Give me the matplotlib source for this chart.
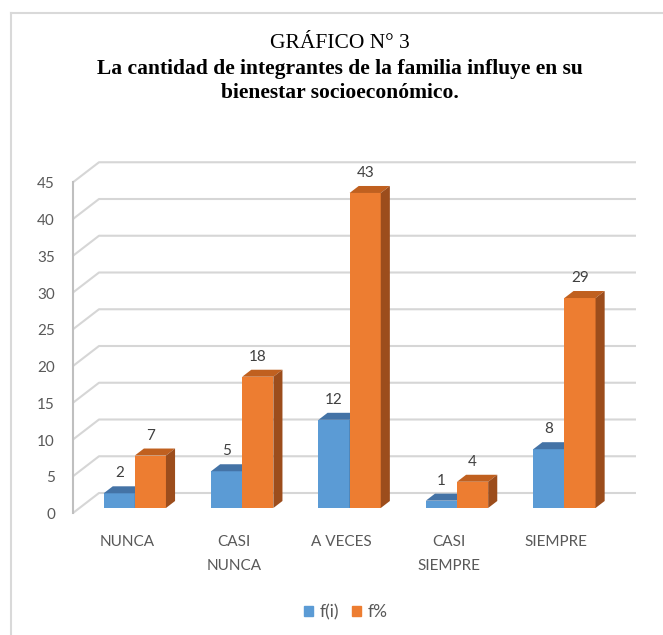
import numpy as np
import matplotlib.pyplot as plt
from matplotlib.lines import Line2D
from matplotlib.patches import Patch

# data
categories = ["NUNCA", "CASI\nNUNCA", "A VECES", "CASI\nSIEMPRE", "SIEMPRE"]
f_i = [2, 5, 12, 1, 8]
f_pct = [7.14, 17.86, 42.86, 3.57, 28.57]
series_names = ["f(i)", "f%"]
y_ticks = list(range(0, 50, 5))

title_1 = "GRÁFICO N° 3"
title_2 = "La cantidad de integrantes de la familia influye en su"
title_3 = "bienestar socioeconómico."

# colours: front, top, side
blue = ("#5b9bd5", "#4473a6", "#3b6a96")
orange = ("#ed7d31", "#c0601f", "#9c4d1c")

W, H = 663, 635
fig = plt.figure(figsize=(W / 100, H / 100), dpi=100)
ax = fig.add_axes([0, 0, 1, 1])

# scale of the front plane in pixels
px_x, px_y = 107.4, 7.35
x0, y0 = 73, 122
ax.set_xlim(-0.5 - x0 / px_x, -0.5 + (W - x0) / px_x)
ax.set_ylim(-y0 / px_y, (H - y0) / px_y)
ax.axis("off")

# depth of the 3d box
DX, DY = 26 / px_x, 20 / px_y
n = len(categories)
ymax = y_ticks[-1]

# walls / gridlines
for v in y_ticks:
    ax.plot([-0.5, -0.5 + DX, n - 0.5 + DX], [v, v + DY, v + DY],
            color="#d6d6d6", lw=1.5, zorder=1, solid_capstyle="butt")
    ax.annotate(str(v), (-0.5, v), xytext=(-13, -1.5), textcoords="offset points",
                ha="right", va="center", fontsize=11, color="#595959", family="Lato")
ax.plot([-0.5, -0.5], [0, ymax], color="#bfbfbf", lw=1.5, zorder=1)

# bars
f0, f1 = 0.25, 0.6
fx, fy = f0 * DX, f0 * DY
tx, ty = (f1 - f0) * DX, (f1 - f0) * DY
w = 0.29
idx = np.arange(n)
for k, (vals, cols) in enumerate([(f_i, blue), (f_pct, orange)]):
    lefts = idx - 0.275 + k * w + fx
    ax.bar(lefts, vals, width=w, bottom=fy, align="edge", color=cols[0],
           zorder=3, linewidth=0)
    for l, v in zip(lefts, vals):
        ax.fill([l, l + w, l + w + tx, l + tx],
                [fy + v, fy + v, fy + v + ty, fy + v + ty],
                color=cols[1], zorder=3, lw=0)
        ax.fill([l + w, l + w + tx, l + w + tx, l + w],
                [fy, fy + ty, fy + v + ty, fy + v],
                color=cols[2], zorder=3, lw=0)
        ax.annotate(f"{v:.0f}", (l + w / 2, fy + v), xytext=(0, 14.4),
                    textcoords="offset points", ha="center", va="center",
                    fontsize=11, color="#404040", family="Lato")

# category labels
for i, c in enumerate(categories):
    ax.annotate(c, (i, 0), xytext=(0, -15.5), textcoords="offset points",
                ha="center", va="top", fontsize=11, color="#595959",
                family="Lato", linespacing=1.95)

# legend
handles = [Patch(color=blue[0]), Patch(color=orange[0])]
fig.legend(handles, series_names, loc="center", bbox_to_anchor=(346 / W, 1 - 612 / H),
           ncol=2, frameon=False, handlelength=0.5, handleheight=0.5,
           handletextpad=0.4, columnspacing=0.75,
           prop={"family": "Lato", "size": 12.5}, labelcolor="#595959")

# title
fig.text(340 / W, 1 - 44 / H, title_1, ha="center", va="center",
         family="Liberation Serif", fontsize=15.5)
fig.text(340 / W, 1 - 69 / H, title_2, ha="center", va="center",
         family="Liberation Serif", fontsize=15.5, weight="bold")
fig.text(340 / W, 1 - 93 / H, title_3, ha="center", va="center",
         family="Liberation Serif", fontsize=15.5, weight="bold")

# outer frame (left and top edges visible)
fig.add_artist(Line2D([11 / W, 11 / W], [0, 1 - 13 / H], transform=fig.transFigure,
                      color="#d9d9d9", lw=1.5))
fig.add_artist(Line2D([11 / W, 1], [1 - 13 / H, 1 - 13 / H], transform=fig.transFigure,
                      color="#d9d9d9", lw=1.5))

fig.savefig("out.png", dpi=100, facecolor="white")
